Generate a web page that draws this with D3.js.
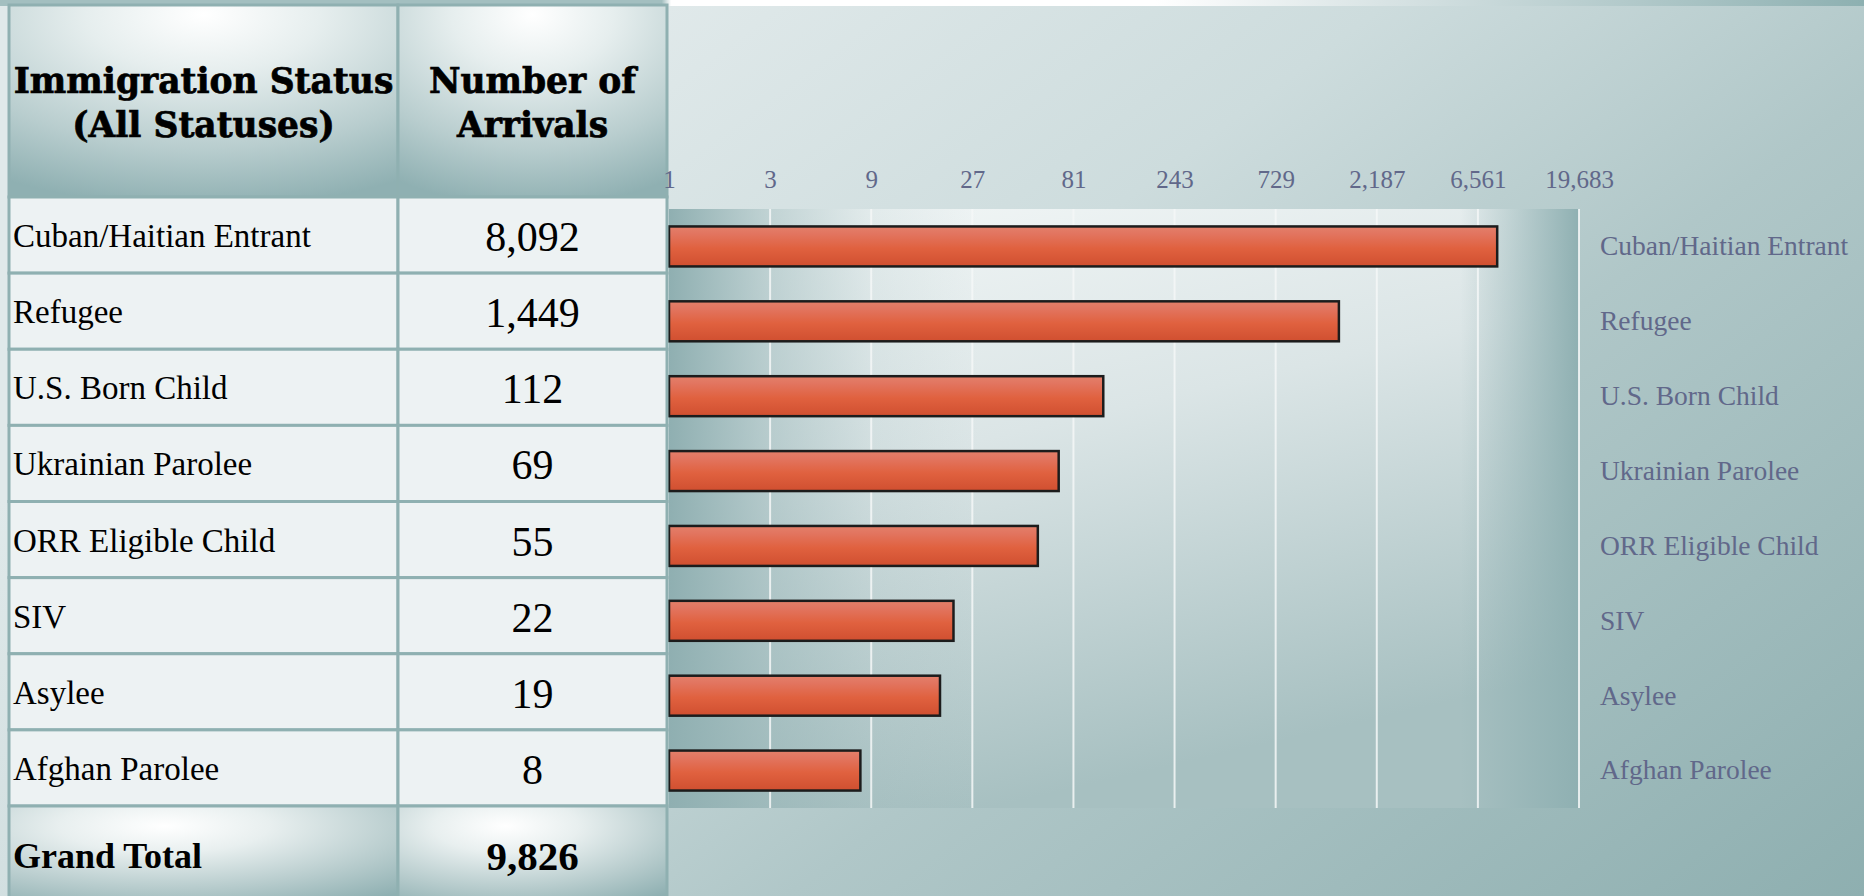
<!DOCTYPE html>
<html>
<head>
<meta charset="utf-8">
<script src="https://cdn.jsdelivr.net/npm/d3@7/dist/d3.min.js"></script>
<style>
  body { margin: 0; overflow: hidden; background: #c9d8d9; }
  svg { display: block; }
</style>
</head>
<body>
<div class="arrivals-chart"></div>
<script>
var statuses = ["Cuban/Haitian Entrant", "Refugee", "U.S. Born Child", "Ukrainian Parolee",
  "ORR Eligible Child", "SIV", "Asylee", "Afghan Parolee"]
var arrivals = [8092, 1449, 112, 69, 55, 22, 19, 8]
var grandTotal = 9826
var tickValues = [1, 3, 9, 27, 81, 243, 729, 2187, 6561, 19683]
var headerCol1 = ["Immigration Status", "(All Statuses)"]
var headerCol2 = ["Number of", "Arrivals"]
var totalLabel = "Grand Total"

var width = 1864,
    height = 896
var svg = d3.select(".arrivals-chart")
    .append("svg")
    .attr("width", width)
    .attr("height", height)
var defs = svg.append("defs")

function linearGrad(id, x1, y1, x2, y2, stops, user) {
  var g = defs.append("linearGradient").attr("id", id)
      .attr("x1", x1).attr("y1", y1).attr("x2", x2).attr("y2", y2)
  if (user) g.attr("gradientUnits", "userSpaceOnUse")
  stops.forEach(function(s) {
    g.append("stop").attr("offset", s[0]).attr("stop-color", s[1])
      .attr("stop-opacity", s[2] == null ? 1 : s[2])
  })
}
function radialGrad(id, cx, cy, r, stops) {
  var g = defs.append("radialGradient").attr("id", id)
      .attr("cx", cx).attr("cy", cy).attr("r", r).attr("fx", cx).attr("fy", cy)
  stops.forEach(function(s) {
    g.append("stop").attr("offset", s[0]).attr("stop-color", s[1])
  })
}

linearGrad("pageBg", 667, 6, 1519, 1152,
  [[0, "#e0e9ea"], [0.3, "#cddcdd"], [0.55, "#b0c7c8"], [1, "#8eafb0"]], true)
linearGrad("topStrip", 0, 0, 1, 0, [[0, "#a3bfc0"], [0.355, "#a3bfc0"], [0.36, "#ffffff"],
  [0.62, "#ffffff"], [0.74, "#d9e4e5"], [1, "#8db0b1"]])
linearGrad("plotBase", 0, 0, 0.35, 1, [[0, "#f4f8f8"], [0.45, "#dbe5e6"], [1, "#a7c0c1"]])
linearGrad("plotEdge", 0, 0, 1, 0, [[0, "#8fafb1", 1], [0.11, "#8fafb1", 0.5],
  [0.22, "#8fafb1", 0.15], [0.34, "#8fafb1", 0], [0.87, "#8fb0b2", 0], [1, "#8fb0b2", 1]])
linearGrad("barFill", 0, 0, 0, 1, [[0, "#e3806a"], [0.18, "#e27560"], [0.55, "#e0613f"], [1, "#d04f30"]])
radialGrad("headFill", 0.5, 0.05, 1, [[0, "#ffffff"], [0.3, "#e6eeee"], [0.7, "#b8cdce"], [1, "#8fb0b2"]])
radialGrad("totalFill", 0.4, 0.2, 0.9, [[0, "#ffffff"], [0.3, "#e8efef"], [0.7, "#b6cbcc"], [1, "#8fb0b2"]])

// background
svg.append("rect").attr("width", width).attr("height", height).attr("fill", "url(#pageBg)")
svg.append("rect").attr("width", width).attr("height", 6).attr("fill", "url(#topStrip)")

// chart
var plotTop = 209, plotBottom = 808
var x = d3.scaleLog().base(3).domain([1, 19683]).range([669, 1579])
var y = d3.scaleBand().domain(statuses).range([plotTop, plotBottom])
    .paddingInner(0.466).paddingOuter(0.233)

svg.append("rect").attr("x", x(1)).attr("y", plotTop)
    .attr("width", x(19683) - x(1)).attr("height", plotBottom - plotTop)
    .attr("fill", "url(#plotBase)")
svg.append("rect").attr("x", x(1)).attr("y", plotTop)
    .attr("width", x(19683) - x(1)).attr("height", plotBottom - plotTop)
    .attr("fill", "url(#plotEdge)")

svg.append("g").attr("class", "grid")
  .selectAll("line")
  .data(tickValues.slice(1))
  .enter().append("line")
    .attr("x1", function(d) { return x(d); })
    .attr("x2", function(d) { return x(d); })
    .attr("y1", plotTop)
    .attr("y2", plotBottom)
    .attr("stroke", "#f4f7f7")
    .attr("stroke-opacity", 0.85)
    .attr("stroke-width", 2)

svg.append("g").attr("class", "bars")
  .selectAll("rect")
  .data(statuses)
  .enter().append("rect")
    .attr("x", x(1))
    .attr("y", function(d) { return y(d); })
    .attr("width", function(d, i) { return x(arrivals[i]) - x(1); })
    .attr("height", y.bandwidth())
    .attr("fill", "url(#barFill)")
    .attr("stroke", "#1c1c1c")
    .attr("stroke-width", 2.5)

// table
var col = [9, 398, 667]
var rowY = d3.scaleBand().domain(statuses).range([197, 806])
var border = "#8fb0b1"

var head = svg.append("g").attr("class", "table-head")
head.selectAll("rect")
  .data([0, 1])
  .enter().append("rect")
    .attr("x", function(i) { return col[i]; })
    .attr("y", 5)
    .attr("width", function(i) { return col[i + 1] - col[i]; })
    .attr("height", 192)
    .attr("fill", "url(#headFill)")
    .attr("stroke", border)
    .attr("stroke-width", 3)
;[headerCol1, headerCol2].forEach(function(lines, i) {
  head.append("text")
      .attr("x", (col[i] + col[i + 1]) / 2)
      .attr("text-anchor", "middle")
      .attr("font-family", "DejaVu Serif")
      .attr("font-weight", "bold")
      .attr("font-size", 34.5)
      .attr("fill", "#000")
      .attr("stroke", "#000")
      .attr("stroke-width", 0.7)
    .selectAll("tspan")
    .data(lines)
    .enter().append("tspan")
      .attr("x", (col[i] + col[i + 1]) / 2)
      .attr("y", function(d, j) { return 93 + j * 44; })
      .text(function(d) { return d; })
})

var rows = svg.append("g").attr("class", "table-rows")
  .selectAll("g")
  .data(statuses)
  .enter().append("g")
    .attr("transform", function(d) { return "translate(0," + rowY(d) + ")"; })
rows.selectAll("rect")
  .data([0, 1])
  .enter().append("rect")
    .attr("x", function(i) { return col[i]; })
    .attr("width", function(i) { return col[i + 1] - col[i]; })
    .attr("height", rowY.bandwidth())
    .attr("fill", "#edf2f3")
    .attr("stroke", border)
    .attr("stroke-width", 3)
rows.append("text")
    .attr("x", 13)
    .attr("y", rowY.bandwidth() / 2 + 12)
    .attr("font-family", "Liberation Serif")
    .attr("font-size", 33)
    .text(function(d) { return d; })
rows.append("text")
    .attr("x", (col[1] + col[2]) / 2)
    .attr("y", rowY.bandwidth() / 2 + 16)
    .attr("text-anchor", "middle")
    .attr("font-family", "Liberation Serif")
    .attr("font-size", 42)
    .text(function(d, i) { return d3.format(",")(arrivals[i]); })

var total = svg.append("g").attr("class", "table-total")
total.selectAll("rect")
  .data([0, 1])
  .enter().append("rect")
    .attr("x", function(i) { return col[i]; })
    .attr("y", 806)
    .attr("width", function(i) { return col[i + 1] - col[i]; })
    .attr("height", 100)
    .attr("fill", "url(#totalFill)")
    .attr("stroke", border)
    .attr("stroke-width", 3)
total.append("text")
    .attr("x", 13).attr("y", 868)
    .attr("font-family", "Liberation Serif").attr("font-weight", "bold")
    .attr("font-size", 36)
    .text(totalLabel)
total.append("text")
    .attr("x", (col[1] + col[2]) / 2).attr("y", 870)
    .attr("text-anchor", "middle")
    .attr("font-family", "Liberation Serif").attr("font-weight", "bold")
    .attr("font-size", 41)
    .text(d3.format(",")(grandTotal))

// axes
var xAxis = svg.append("g")
    .attr("class", "x-axis")
    .attr("transform", "translate(0,188)")
    .call(d3.axisTop(x).tickValues(tickValues).tickSize(0).tickPadding(0).tickFormat(d3.format(",")))
xAxis.select(".domain").remove()
xAxis.selectAll("text")
    .attr("font-family", "Liberation Serif")
    .attr("font-size", 25)
    .attr("fill", "#61688a")

var yAxis = svg.append("g")
    .attr("class", "y-axis")
    .attr("transform", "translate(" + x(19683) + ",0)")
    .call(d3.axisRight(y).tickSize(0).tickPadding(21))
yAxis.select(".domain").remove()
yAxis.selectAll("text")
    .attr("dy", "0.32em")
    .attr("font-family", "Liberation Serif")
    .attr("font-size", 27.5)
    .attr("fill", "#61688a")
</script>
</body>
</html>
